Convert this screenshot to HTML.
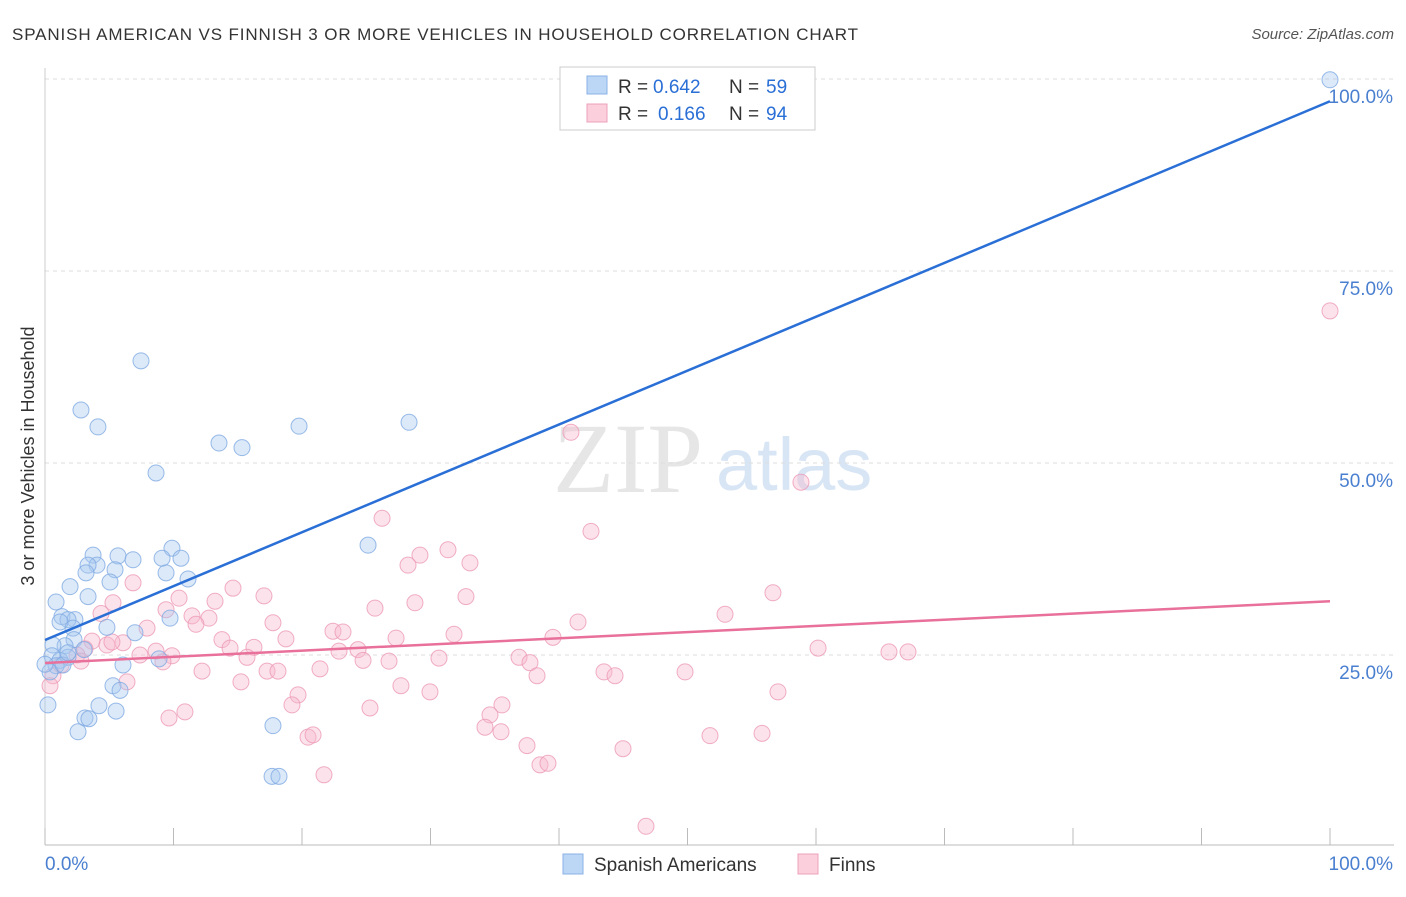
<!DOCTYPE html>
<html><head><meta charset="utf-8"><style>
body{margin:0;background:#fff;font-family:"Liberation Sans",sans-serif;}
svg text{font-family:"Liberation Sans",sans-serif;}
</style></head><body>
<svg id="chart" width="1406" height="892" viewBox="0 0 1406 892" xmlns="http://www.w3.org/2000/svg">
<text x="12" y="40" font-size="17" fill="#333" textLength="846">SPANISH AMERICAN VS FINNISH 3 OR MORE VEHICLES IN HOUSEHOLD CORRELATION CHART</text>
<text x="1394" y="39" font-size="15" fill="#555" text-anchor="end" font-style="italic">Source: ZipAtlas.com</text>
<text x="553" y="492" font-size="100" fill="#e6e6e6" style="font-family:'Liberation Serif',serif">ZIP</text>
<text x="716" y="490" font-size="74" fill="#d8e5f5">atlas</text>
<g id="grid"></g>
<g id="axes"></g>
<g id="pts"></g>
<g id="lines"></g>
<text transform="translate(34,456) rotate(-90)" font-size="18" fill="#333" text-anchor="middle">3 or more Vehicles in Household</text>
<g>
<rect x="560" y="67" width="255" height="63" fill="#fff" stroke="#ccc"/>
<rect x="587" y="76" width="20" height="18" fill="#bcd6f5" stroke="#8ab2e6"/>
<rect x="587" y="104" width="20" height="18" fill="#fbcfdc" stroke="#eca0bb"/>
<text x="618" y="93" font-size="19" fill="#333">R =</text>
<text x="653" y="93" font-size="19" fill="#2a6fd6">0.642</text>
<text x="729" y="93" font-size="19" fill="#333">N =</text>
<text x="766" y="93" font-size="19" fill="#2a6fd6">59</text>
<text x="618" y="120" font-size="19" fill="#333">R =</text>
<text x="658" y="120" font-size="19" fill="#2a6fd6">0.166</text>
<text x="729" y="120" font-size="19" fill="#333">N =</text>
<text x="766" y="120" font-size="19" fill="#2a6fd6">94</text>
</g>
<g>
<rect x="563" y="854" width="20" height="20" fill="#bcd6f5" stroke="#8ab2e6"/>
<text x="594" y="871" font-size="19" fill="#333">Spanish Americans</text>
<rect x="798" y="854" width="20" height="20" fill="#fbcfdc" stroke="#eca0bb"/>
<text x="829" y="871" font-size="19" fill="#333">Finns</text>
</g>
</svg>
<script>
const blueX=[100,7.47,2.80,4.12,13.54,15.33,19.77,28.33,8.64,25.14,3.74,5.68,6.85,9.88,9.11,10.58,4.05,3.35,5.45,3.19,9.42,11.13,5.06,1.95,0.86,3.35,1.32,2.33,1.79,1.17,9.73,4.82,7.00,2.18,2.26,1.56,0.62,3.04,0.54,1.79,1.17,8.87,6.07,0.86,0.39,5.29,5.84,0.23,4.20,5.53,3.11,3.42,2.57,17.74,17.67,18.21,1.40,0,1.79];
const blueY=[99.9,63.3,56.9,54.7,52.6,52.0,54.8,55.3,48.7,39.3,38.0,37.9,37.4,38.9,37.6,37.6,36.7,36.7,36.1,35.7,35.7,34.9,34.5,33.9,31.9,32.6,30.0,29.6,29.6,29.3,29.8,28.6,27.9,28.5,27.0,26.2,26.3,25.7,24.9,24.7,24.3,24.5,23.7,23.6,22.8,21.0,20.4,18.5,18.4,17.7,16.8,16.7,15.0,15.8,9.2,9.2,23.7,23.8,25.3];
const pinkX=[100,40.93,58.83,42.49,26.23,31.36,29.18,28.25,33.07,6.85,14.63,17.04,13.23,10.43,5.29,4.36,9.42,11.44,12.76,11.75,7.94,17.74,22.41,23.19,25.68,28.79,32.76,41.48,52.92,56.65,31.83,39.53,27.32,18.75,13.77,14.40,16.26,6.07,3.66,4.82,3.11,2.49,7.39,8.64,22.88,24.36,24.75,15.72,9.88,9.18,2.80,1.25,0.62,12.22,17.28,18.13,21.40,26.77,30.66,36.89,37.74,38.29,43.5,44.36,49.81,60.16,65.68,67.16,6.38,15.25,27.70,29.96,19.69,19.22,25.29,35.56,34.63,57.04,9.65,10.89,34.24,35.49,20.47,20.86,37.51,44.98,51.75,55.80,38.52,39.14,21.71,46.77,0.39,5.21];
const pinkY=[69.8,54.0,47.5,41.1,42.8,38.7,38.0,36.7,37.0,34.4,33.7,32.7,32.0,32.4,31.8,30.4,30.9,30.1,29.8,29.0,28.5,29.2,28.1,28.0,31.1,31.8,32.6,29.3,30.3,33.1,27.7,27.3,27.2,27.1,27.0,25.9,26.0,26.6,26.8,26.3,25.8,25.0,25.0,25.5,25.5,25.7,24.3,24.7,24.9,24.1,24.2,23.7,22.3,22.9,22.9,22.9,23.2,24.2,24.6,24.7,24.0,22.3,22.8,22.3,22.8,25.9,25.4,25.4,21.5,21.5,21.0,20.2,19.8,18.5,18.1,18.5,17.2,20.2,16.8,17.6,15.6,15.0,14.3,14.6,13.2,12.8,14.5,14.8,10.7,10.9,9.4,2.7,21.0,26.7];
const blueLine=[26.95,97.1];
const pinkLine=[23.96,32.0];
const yTicks=[25,50,75,100];
const yTickLabels=["25.0%","50.0%","75.0%","100.0%"];
const xTicks=[0,10,20,30,40,50,60,70,80,90,100];
const NS="http://www.w3.org/2000/svg";
const sx=v=>45+v*12.85, sy=v=>847-v*7.68;
function mk(p,t,a){const e=document.createElementNS(NS,t);for(const k in a)e.setAttribute(k,a[k]);p.appendChild(e);return e;}
const grid=document.getElementById('grid'),axes=document.getElementById('axes'),pts=document.getElementById('pts'),lines=document.getElementById('lines');
yTicks.forEach((t,i)=>{
 const g=mk(grid,'line',{x1:45,x2:1394,y1:sy(t),y2:sy(t),stroke:'#ddd','stroke-dasharray':'4,4'});
 
 
 const tx=mk(axes,'text',{x:1393,y:sy(t)+24,'font-size':19,fill:'#4a7fd0','text-anchor':'end'});
 tx.textContent=yTickLabels[i];
 
 
});
const ax=mk(axes,'line',{x1:45,x2:1394,y1:845,y2:845,stroke:'#bbb'});


const ay=mk(axes,'line',{x1:45,x2:45,y1:68,y2:845,stroke:'#ccc'});


xTicks.forEach(t=>{
 const l=mk(axes,'line',{x1:sx(t),x2:sx(t),y1:828,y2:845,stroke:'#bbb'});
 
 
});
[[0,"0.0%",'start',45],[100,"100.0%",'end',1393]].forEach(a=>{
 const tx=mk(axes,'text',{x:a[3],y:870,'font-size':19,fill:'#4a7fd0','text-anchor':a[2]});
 tx.textContent=a[1];
 
 
});
function dots(X,Y,fill,stroke,name){X.forEach((x,i)=>{
 const c=mk(pts,'circle',{cx:sx(x),cy:sy(Y[i]),r:8,fill:fill,'fill-opacity':0.4,stroke:stroke,'stroke-width':1,'stroke-opacity':0.8});
 
 
});}
dots(pinkX,pinkY,'#f8b8cc','#ec9ab6','finns-point');
dots(blueX,blueY,'#a8c8f0','#80aae2','spanish-american-point');
const bl=mk(lines,'line',{x1:sx(0),y1:sy(blueLine[0]),x2:sx(100),y2:sy(blueLine[1]),stroke:'#2a6fd6','stroke-width':2.5});


const pl=mk(lines,'line',{x1:sx(0),y1:sy(pinkLine[0]),x2:sx(100),y2:sy(pinkLine[1]),stroke:'#e8709a','stroke-width':2.5});


</script>
</body></html>
